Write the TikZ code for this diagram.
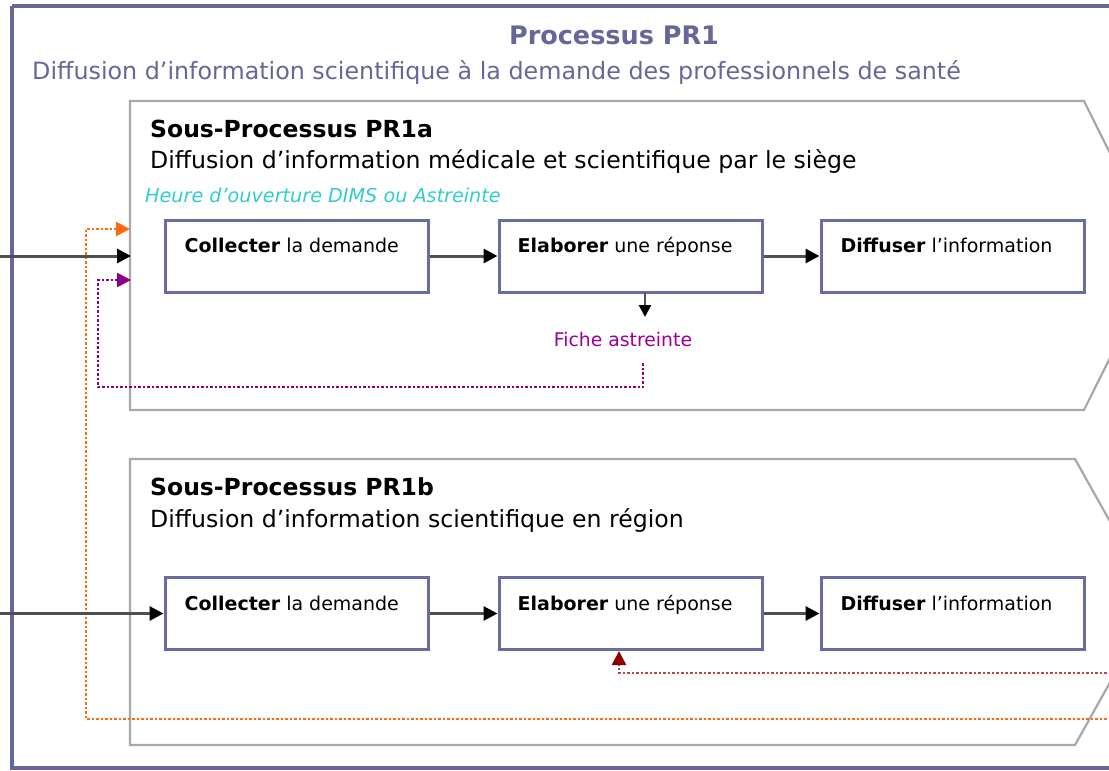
\documentclass[tikz,border=0pt]{standalone}
\usepackage{fontspec}
\setmainfont{DejaVu Sans}
\usetikzlibrary{arrows.meta,calc}
\definecolor{slate}{HTML}{666699}
\definecolor{boxline}{HTML}{6B6BA3}
\definecolor{subline}{HTML}{A8A8A8}
\definecolor{arrline}{HTML}{505050}
\definecolor{cyantxt}{HTML}{33CCCC}
\definecolor{orangeln}{HTML}{FF6A10}
\definecolor{purpleln}{HTML}{880088}
\definecolor{fichetxt}{HTML}{990099}
\definecolor{redln}{HTML}{8B0000}
\tikzset{
  pbox/.style={draw=boxline, line width=3pt, fill=white, minimum width=263pt, minimum height=72pt, inner sep=0pt},
  btxt/.style={anchor=base west, inner sep=0pt, font=\fontsize{19}{22}\selectfont},
  flow/.style={draw=arrline, line width=3pt, -{Triangle[length=14pt,width=14pt,color=black]}},
  dotline/.style={line width=2.5pt, dash pattern=on 2.5pt off 2pt},
  subshape/.style={draw=subline, line width=2.2pt, fill=white},
}
\begin{document}
\begin{tikzpicture}[x=1pt,y=-1pt]
\useasboundingbox (0,0) rectangle (1109,771);
\clip (0,0) rectangle (1109,771);
\fill[white] (0,0) rectangle (1109,771);
% outer process frame
\draw[draw=slate, line width=4pt] (12,6) -- (1120,6) (12,6) -- (12,768) -- (1120,768);
\node[anchor=base, inner sep=0pt, text=slate, font=\fontsize{25.5}{28}\selectfont\bfseries] (ttl) at (614,45) {Processus PR1};
\node[anchor=base west, inner sep=0pt, text=slate, font=\fontsize{23.8}{28}\selectfont] (sub) at (32,79) {Diffusion d’information scientifique à la demande des professionnels de santé};
% sub-process shapes
\draw[subshape] (130,101) -- (1084,101) -- (1161,255.5) -- (1084,410) -- (130,410) -- cycle;
\draw[subshape] (130,459) -- (1075,459) -- (1155,602) -- (1075,745) -- (130,745) -- cycle;
% sub-process titles
\node[anchor=base west, inner sep=0pt, font=\fontsize{23.5}{26}\selectfont\bfseries] (t1) at (150,137) {Sous-Processus PR1a};
\node[anchor=base west, inner sep=0pt, font=\fontsize{23.6}{26}\selectfont] (s1) at (150,168) {Diffusion d’information médicale et scientifique par le siège};
\node[anchor=base west, inner sep=0pt, text=cyantxt, font=\fontsize{19.2}{22}\selectfont\itshape] (h1) at (145,202) {Heure d’ouverture DIMS ou Astreinte};
\node[anchor=base west, inner sep=0pt, font=\fontsize{23.5}{26}\selectfont\bfseries] (t2) at (150,495) {Sous-Processus PR1b};
\node[anchor=base west, inner sep=0pt, font=\fontsize{23.6}{26}\selectfont] (s2) at (150,527) {Diffusion d’information scientifique en région};
% boxes row 1
\node[pbox] (c1) at (296.5,256) {};
\node[pbox] (e1) at (630.5,256) {};
\node[pbox] (d1) at (952.5,256) {};
\node[btxt] (c1t) at ($(c1.north west)+(21,34)$) {\textbf{Collecter} la demande};
\node[btxt] (e1t) at ($(e1.north west)+(20,34)$) {\textbf{Elaborer} une réponse};
\node[btxt] (d1t) at ($(d1.north west)+(21,34)$) {\textbf{Diffuser} l’information};
% boxes row 2
\node[pbox] (c2) at (296.5,613.5) {};
\node[pbox] (e2) at (630.5,613.5) {};
\node[pbox] (d2) at (952.5,613.5) {};
\node[btxt] (c2t) at ($(c2.north west)+(21,34)$) {\textbf{Collecter} la demande};
\node[btxt] (e2t) at ($(e2.north west)+(20,34)$) {\textbf{Elaborer} une réponse};
\node[btxt] (d2t) at ($(d2.north west)+(21,34)$) {\textbf{Diffuser} l’information};
% fiche astreinte
\node[anchor=base, inner sep=0pt, text=fichetxt, font=\fontsize{18.8}{22}\selectfont] (fiche) at (623,346) {Fiche astreinte};
% coordinates
\coordinate (in1) at (-5,256);
\coordinate (in1e) at (131,256);
\coordinate (in2) at (-5,613.5);
\coordinate (fa) at (645,293);
\coordinate (fb) at (645,317);
\coordinate (p0) at (643,363);
\coordinate (p1) at (643,387);
\coordinate (p2) at (98,387);
\coordinate (p3) at (98,280);
\coordinate (p4) at (131,280);
\coordinate (o0) at (1120,719);
\coordinate (o1) at (86,719);
\coordinate (o2) at (86,229);
\coordinate (o3) at (130,229);
\coordinate (r0) at (1120,673);
\coordinate (r1) at (619,673);
% dotted feedback loops
\draw[dotline, draw=orangeln, -{Triangle[length=14pt,width=14pt]}] (o0) -- (o1) -- (o2) -- (o3);
\draw[dotline, draw=purpleln, -{Triangle[length=14pt,width=14pt]}] (p0) -- (p1) -- (p2) -- (p3) -- (p4);
\draw[dotline, draw=redln!70, -{Triangle[length=14pt,width=14pt,color=redln]}] (r0) -- (r1) -- (r1 |- e2.south);
% flows
\draw[flow] (in1) -- (in1e);
\draw[flow] (c1) -- (e1);
\draw[flow] (e1) -- (d1);
\draw[draw=arrline, line width=2.5pt, -{Triangle[length=12pt,width=12pt,color=black]}] (fa) -- (fb);
\draw[flow] (in2) -- (c2);
\draw[flow] (c2) -- (e2);
\draw[flow] (e2) -- (d2);
\end{tikzpicture}
\end{document}
